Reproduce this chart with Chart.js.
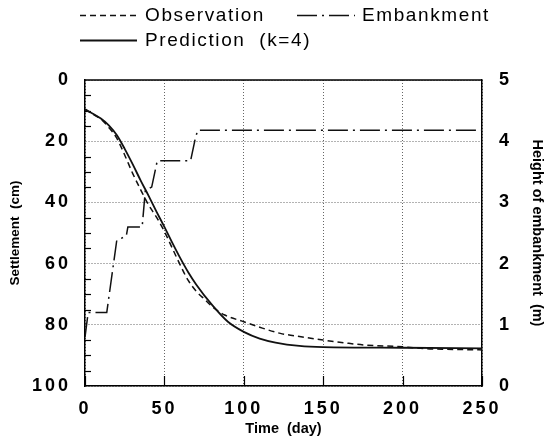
<!DOCTYPE html>
<html><head><meta charset="utf-8">
<script src="https://cdn.jsdelivr.net/npm/chart.js@4.4.0/dist/chart.umd.min.js"></script>
<style>html,body{margin:0;padding:0;background:#fff}#wrap{width:548px;height:448px}</style>
</head><body><div id="wrap"><canvas id="c" width="548" height="448"></canvas></div>
<script>
// ---- data ----
const seriesLabels = ['Observation', 'Prediction  (k=4)', 'Embankment'];
const timeTicks = [0, 50, 100, 150, 200, 250];
const settlementTicks = [0, 20, 40, 60, 80, 100];
const settlementMinorTicks = [5, 10, 15, 25, 30, 35, 45, 50, 55, 65, 70, 75, 85, 90, 95];
const heightTicks = [0, 1, 2, 3, 4, 5];

const obsTime = [0, 5, 10, 15, 20, 25, 30, 35, 40, 45, 50, 55, 60, 65, 70, 76, 80, 88, 100, 110, 123, 136, 150, 165, 176, 200, 215, 227, 250];
const obsSettlement = [9.6, 11.2, 12.8, 15.5, 19, 24.5, 30.5, 35.8, 40.8, 44.8, 49.5, 55, 60.5, 65.5, 69, 72, 74, 76.8, 79, 80.8, 82.8, 83.9, 85, 86, 86.6, 87.2, 87.8, 88, 88.2];

const predTime = [0, 5, 10, 15, 20, 25, 30, 35, 40, 45, 50, 55, 60, 65, 70, 80, 90, 100, 110, 120, 135, 150, 200, 250];
const predSettlement = [9.6, 11, 12.6, 14.8, 18, 22.5, 27.5, 32.8, 37.8, 43, 48, 53.2, 58.2, 62.8, 66.8, 73.5, 79, 82.3, 84.5, 85.8, 86.9, 87.3, 87.5, 87.7];

const embTime = [0, 2, 13.7, 20, 26, 27, 36, 38, 42, 45.5, 66.5, 69.5, 71, 250];
const embHeight = [0.8, 1.2, 1.2, 2.38, 2.45, 2.6, 2.6, 3.2, 3.25, 3.68, 3.68, 4.05, 4.18, 4.18];

const FONT = '"Liberation Sans", Arial, Helvetica, sans-serif';
const pts = (xs, ys) => xs.map((x, i) => ({x: x, y: ys[i]}));

const framePlugin = {
  id: 'frame',
  beforeDraw(chart) { chart.ctx.letterSpacing = '0px'; },
  beforeDatasetsDraw(chart) {
    const {ctx, chartArea: a, scales} = chart;
    ctx.save();
    ctx.strokeStyle = '#000';
    ctx.lineWidth = 1.5;
    ctx.beginPath();
    ctx.moveTo(a.left, a.top); ctx.lineTo(a.right, a.top);
    ctx.stroke();
    ctx.lineWidth = 1.2;
    settlementMinorTicks.forEach(v => {
      const y = Math.round(scales.y.getPixelForValue(v)) + 0.5;
      ctx.beginPath(); ctx.moveTo(a.left, y); ctx.lineTo(a.left + 6, y); ctx.stroke();
    });
    timeTicks.forEach(v => {
      const x = Math.round(scales.x.getPixelForValue(v)) + 0.5;
      ctx.beginPath(); ctx.moveTo(x, a.bottom); ctx.lineTo(x, a.bottom - 10); ctx.stroke();
    });
    ctx.restore();
  },
  afterDatasetsDraw(chart) { chart.ctx.letterSpacing = '3px'; },
  afterDraw(chart) {
    const ctx = chart.ctx;
    ctx.letterSpacing = '0px';
    const ds = chart.data.datasets;
    const items = [
      {d: ds[0], x1: 80, x2: 137, y: 15, tx: 145},
      {d: ds[2], x1: 297, x2: 355, y: 15, tx: 362},
      {d: ds[1], x1: 80, x2: 137, y: 40, tx: 145}
    ];
    ctx.save();
    items.forEach(it => {
      ctx.strokeStyle = it.d.borderColor;
      ctx.lineWidth = it.d.borderWidth;
      ctx.setLineDash(it.d.borderDash || []);
      ctx.beginPath(); ctx.moveTo(it.x1, it.y + 0.5); ctx.lineTo(it.x2, it.y + 0.5); ctx.stroke();
      ctx.setLineDash([]);
      ctx.letterSpacing = '1.6px';
      ctx.fillStyle = '#000';
      ctx.font = '19px ' + FONT;
      ctx.textBaseline = 'middle';
      ctx.textAlign = 'left';
      ctx.fillText(it.d.label, it.tx, it.y + 1);
      ctx.letterSpacing = '0px';
    });
    ctx.restore();
  }
};

new Chart(document.getElementById('c'), {
  type: 'line',
  data: {
    datasets: [
      {label: seriesLabels[0], data: pts(obsTime, obsSettlement), yAxisID: 'y',
       borderColor: '#111', borderWidth: 1.5, borderDash: [6, 4], pointRadius: 0,
       cubicInterpolationMode: 'monotone', fill: false},
      {label: seriesLabels[1], data: pts(predTime, predSettlement), yAxisID: 'y',
       borderColor: '#111', borderWidth: 1.8, pointRadius: 0,
       cubicInterpolationMode: 'monotone', fill: false},
      {label: seriesLabels[2], data: pts(embTime, embHeight), yAxisID: 'y2',
       borderColor: '#111', borderWidth: 1.5, borderDash: [20, 5, 2, 5], pointRadius: 0,
       tension: 0, fill: false}
    ]
  },
  options: {
    responsive: false,
    animation: false,
    events: [],
    layout: {padding: {top: 80, left: 0, right: 0, bottom: 0}},
    plugins: {legend: {display: false}, tooltip: {enabled: false}},
    scales: {
      x: {
        type: 'linear', position: 'bottom', min: 0, max: 250,
        afterBuildTicks: s => { s.ticks = timeTicks.map(v => ({value: v})); },
        afterFit: s => { s.height = 62; },
        grid: {color: '#666', lineWidth: 1, drawTicks: false},
        border: {color: '#000', width: 1.5, dash: [1, 2], z: 0},
        ticks: {z: 1, padding: 12, color: '#000', font: {family: FONT, size: 18, weight: 'bold'}},
        title: {display: true, text: 'Time  (day)', color: '#000',
                font: {family: FONT, size: 14.5, weight: 'bold'}, padding: {top: 0, bottom: 10}}
      },
      y: {
        type: 'linear', position: 'left', min: 0, max: 100, reverse: true,
        afterBuildTicks: s => { s.ticks = settlementTicks.map(v => ({value: v})); },
        afterFit: s => { s.width = 85; },
        grid: {color: '#666', lineWidth: 1, drawTicks: false},
        border: {color: '#000', width: 1.5, dash: [1, 2]},
        ticks: {z: 1, padding: 14, color: '#000', font: {family: FONT, size: 18, weight: 'bold'}},
        title: {display: true, text: 'Settlement  (cm)', color: '#000',
                font: {family: FONT, size: 13.5, weight: 'bold'}, padding: {top: 7, bottom: 0}}
      },
      y2: {
        type: 'linear', position: 'right', min: 0, max: 5,
        afterBuildTicks: s => { s.ticks = heightTicks.map(v => ({value: v})); },
        afterFit: s => { s.width = 66; },
        grid: {drawOnChartArea: false, drawTicks: false},
        border: {color: '#000', width: 1.5},
        ticks: {z: 1, padding: 17, color: '#000', font: {family: FONT, size: 18, weight: 'bold'}},
        title: {display: true, text: 'Height of embankment  (m)', color: '#000',
                font: {family: FONT, size: 14.5, weight: 'bold'}, padding: {top: 2, bottom: 0}}
      }
    }
  },
  plugins: [framePlugin]
});
</script>
</body></html>
